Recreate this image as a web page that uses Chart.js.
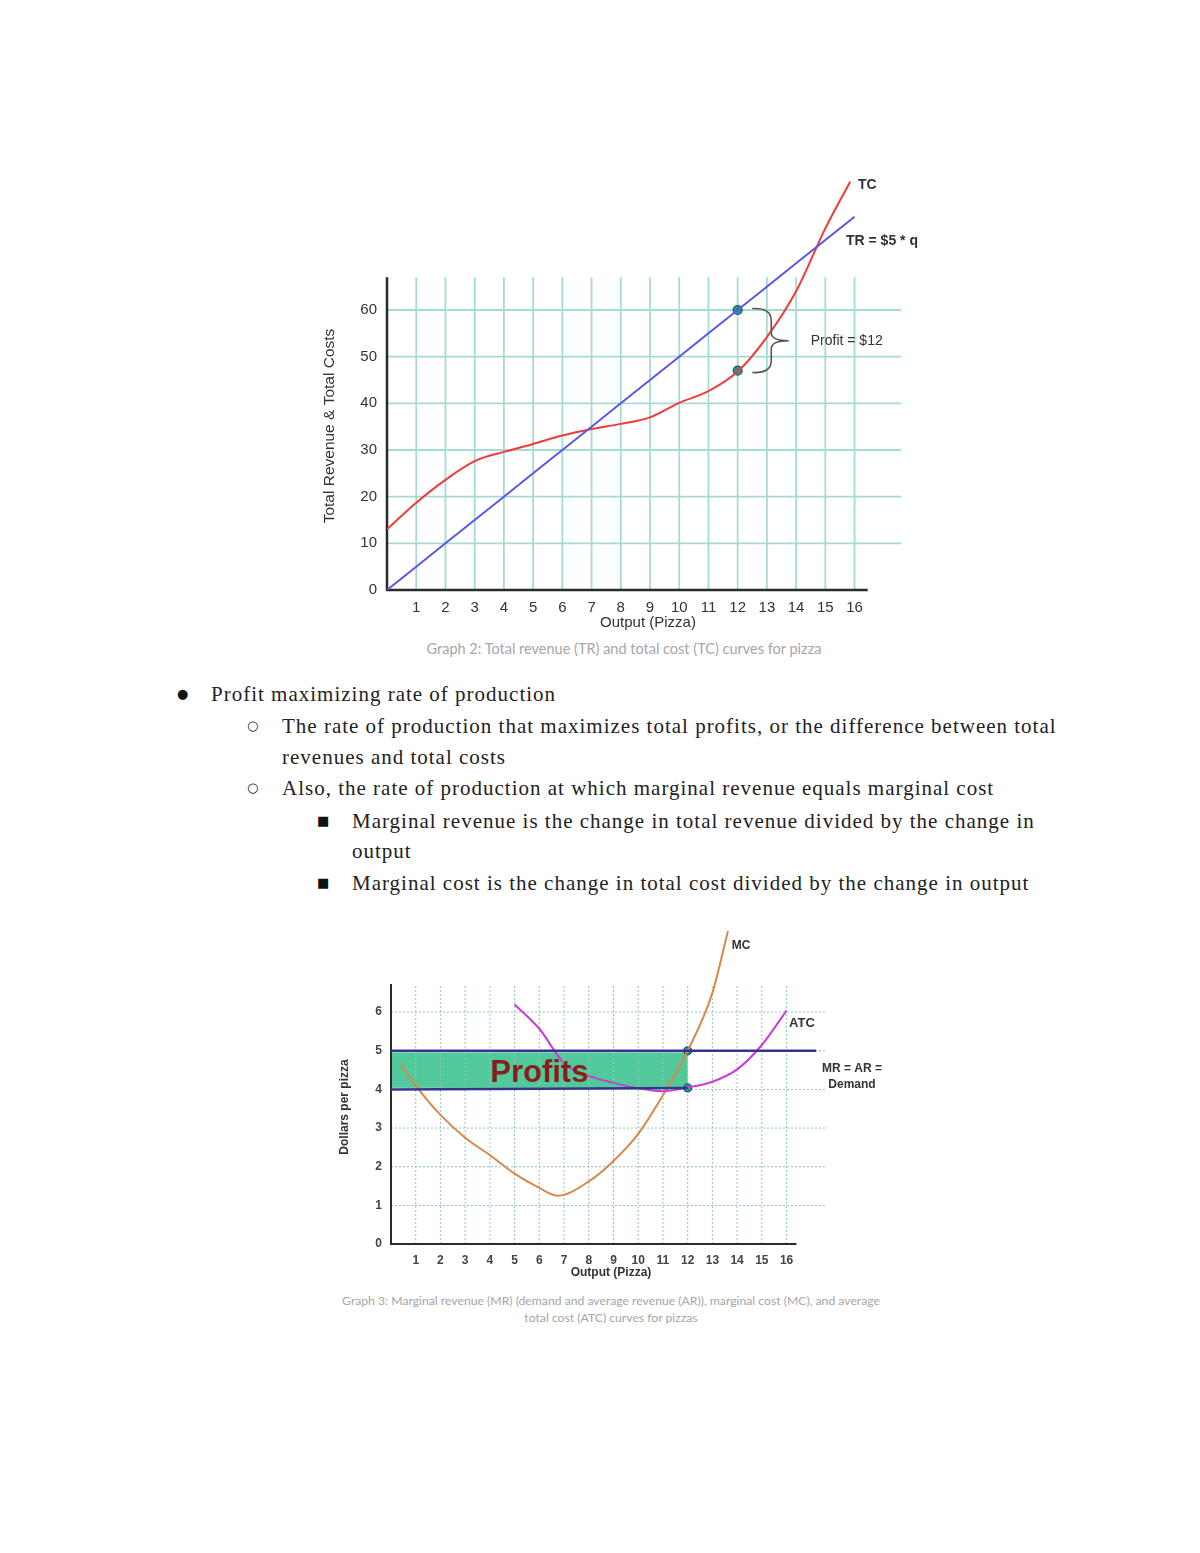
<!DOCTYPE html>
<html lang="en">
<head>
<meta charset="UTF-8">
<title>Profit maximizing rate of production</title>
<script src="https://cdn.jsdelivr.net/npm/chart.js"></script>
<style>
  body { margin: 0; background: #fff; width: 1200px; height: 1553px; position: relative; overflow: hidden; }
  canvas { position: absolute; }
  .cap { position: absolute; font-family: Lato, sans-serif; color: #a6a6a6; text-align: center; white-space: nowrap; }
  .txt { position: absolute; font-family: "Liberation Serif", serif; font-size: 21px; letter-spacing: 1px; color: #222; white-space: nowrap; line-height: 24px; }
  .mark { position: absolute; font-family: "DejaVu Sans", sans-serif; color: #111; line-height: 24px; }
</style>
</head>
<body>

<canvas id="graph2" width="640" height="480" style="left:300px;top:160px"></canvas>
<div class="cap" style="left:324px;top:640px;width:600px;font-size:14.5px">Graph 2: Total revenue (TR) and total cost (TC) curves for pizza</div>

<div class="mark" style="left:177px;top:682px;font-size:13px">●</div>
<div class="txt" style="left:211px;top:682px">Profit maximizing rate of production</div>
<div class="mark" style="left:247px;top:714px;font-size:13px">○</div>
<div class="txt" style="left:282px;top:714px">The rate of production that maximizes total profits, or the difference between total</div>
<div class="txt" style="left:282px;top:745px">revenues and total costs</div>
<div class="mark" style="left:247px;top:776px;font-size:13px">○</div>
<div class="txt" style="left:282px;top:776px">Also, the rate of production at which marginal revenue equals marginal cost</div>
<div class="mark" style="left:317px;top:809px;font-size:13px">■</div>
<div class="txt" style="left:352px;top:809px">Marginal revenue is the change in total revenue divided by the change in</div>
<div class="txt" style="left:352px;top:839px">output</div>
<div class="mark" style="left:317px;top:871px;font-size:13px">■</div>
<div class="txt" style="left:352px;top:871px">Marginal cost is the change in total cost divided by the change in output</div>

<canvas id="graph3" width="580" height="370" style="left:330px;top:920px"></canvas>
<div class="cap" style="left:211px;top:1293px;width:800px;font-size:12.2px">Graph 3: Marginal revenue (MR) (demand and average revenue (AR)), marginal cost (MC), and average</div>
<div class="cap" style="left:211px;top:1310px;width:800px;font-size:12.2px">total cost (ATC) curves for pizzas</div>

<script>
// ---- graph 2: total revenue / total cost ----
const outputTC = [0, 1, 2, 3, 4, 5, 6, 7, 8, 9, 10, 11, 12, 13, 14, 15, 15.85];
const totalCost = [13, 18.7, 23.6, 27.6, 29.6, 31.3, 33.1, 34.5, 35.6, 37, 40.1, 42.6, 46.8, 54.2, 64, 77.5, 87.5];
const outputTR = [0, 1, 2, 3, 4, 5, 6, 7, 8, 9, 10, 11, 12, 13, 14, 15, 16];
const totalRevenue = [0, 5, 10, 15, 20, 25, 30, 35, 40, 45, 50, 55, 60, 65, 70, 75, 80];
const profitPointsQ = [12, 12];
const profitPointsY = [60, 47];
const xTicks2 = [1, 2, 3, 4, 5, 6, 7, 8, 9, 10, 11, 12, 13, 14, 15, 16];
const yTicks2 = [0, 10, 20, 30, 40, 50, 60];

// ---- graph 3: MR / MC / ATC ----
const outputMC = [0.4, 1, 2, 3, 4, 5, 6, 6.75, 8, 9, 10, 11, 12, 13, 13.63];
const marginalCost = [4.64, 4.1, 3.34, 2.75, 2.3, 1.82, 1.45, 1.25, 1.62, 2.15, 2.85, 3.85, 5.0, 6.5, 8.1];
const outputATC = [5, 6, 7, 8, 9, 10, 11, 12, 13, 14, 15, 16];
const averageTotalCost = [6.2, 5.57, 4.68, 4.35, 4.17, 4.03, 3.95, 4.05, 4.2, 4.52, 5.15, 6.04];
const outputMR = [0, 17.2];
const marginalRevenue = [5, 5];
const outputLow = [0, 12];
const lowLine = [4, 4.04];
const optimumQ = [12, 12];
const optimumY = [5, 4.04];
const xTicks3 = [1, 2, 3, 4, 5, 6, 7, 8, 9, 10, 11, 12, 13, 14, 15, 16];
const yTicks3 = [0, 1, 2, 3, 4, 5, 6];

const pts = (xs, ys) => xs.map((x, i) => ({ x: x, y: ys[i] }));

function seg(ctx, x1, y1, x2, y2) {
  ctx.beginPath(); ctx.moveTo(x1, y1); ctx.lineTo(x2, y2); ctx.stroke();
}

// paper-style grid and axis lines that stop short of the chart area
function paperGrid(o) {
  return {
    id: 'paperGrid',
    beforeDatasetsDraw(chart) {
      const { ctx, scales: { x, y } } = chart;
      ctx.save();
      if (o.fill) {
        ctx.fillStyle = o.fill.color;
        const l = x.getPixelForValue(o.fill.x0), r = x.getPixelForValue(o.fill.x1);
        const t = y.getPixelForValue(o.fill.y1), b = y.getPixelForValue(o.fill.y0);
        ctx.fillRect(l, t, r - l, b - t);
      }
      ctx.strokeStyle = o.gridColor;
      ctx.lineWidth = o.gridWidth;
      ctx.setLineDash(o.dash || []);
      o.xTicks.forEach(v => seg(ctx, x.getPixelForValue(v), y.getPixelForValue(0), x.getPixelForValue(v), y.getPixelForValue(o.yTop)));
      o.yTicks.forEach(v => { if (v > 0) seg(ctx, x.getPixelForValue(0), y.getPixelForValue(v), x.getPixelForValue(o.gridRight), y.getPixelForValue(v)); });
      ctx.setLineDash([]);
      ctx.strokeStyle = '#2a2a2a';
      ctx.lineWidth = o.axisWidth;
      seg(ctx, x.getPixelForValue(0), y.getPixelForValue(0), x.getPixelForValue(0), y.getPixelForValue(o.yTop));
      seg(ctx, x.getPixelForValue(0) - 1, y.getPixelForValue(0), x.getPixelForValue(o.xEnd), y.getPixelForValue(0));
      ctx.restore();
    }
  };
}

function axisCfg(min, max, ticks, font, color, pad, fit, horiz) {
  return {
    type: 'linear', min: min, max: max,
    grid: { display: false, drawTicks: false }, border: { display: false },
    afterBuildTicks: s => { s.ticks = ticks.map(v => ({ value: v })); },
    afterFit: s => {
      if (horiz) s.height = fit; else s.width = fit;
      s.paddingTop = 0; s.paddingBottom = 0; s.paddingLeft = 0; s.paddingRight = 0;
    },
    ticks: { font: font, color: color, padding: pad, autoSkip: false, maxRotation: 0, callback: v => String(v) }
  };
}

// ---------- graph 2 ----------
new Chart(document.getElementById('graph2'), {
  type: 'scatter',
  data: {
    datasets: [
      { data: pts(outputTR, totalRevenue), showLine: true, borderColor: '#5858e8', borderWidth: 2, pointRadius: 0 },
      { data: pts(outputTC, totalCost), showLine: true, borderColor: '#ef3b3b', borderWidth: 2, pointRadius: 0, cubicInterpolationMode: 'monotone' },
      { data: pts(profitPointsQ, profitPointsY), showLine: false, pointRadius: 4.5, backgroundColor: '#2f8e93', borderColor: '#1d5a68', borderWidth: 1.2 }
    ]
  },
  options: {
    responsive: false, animation: false,
    layout: { padding: { left: 0, right: 27, top: 10, bottom: 0 } },
    plugins: { legend: { display: false }, tooltip: { enabled: false } },
    scales: {
      x: axisCfg(0, 18, xTicks2, { family: 'Liberation Sans', size: 15 }, '#333', 9, 50, true),
      y: axisCfg(0, 90, yTicks2, { family: 'Liberation Sans', size: 15 }, '#333', 10, 87, false)
    }
  },
  plugins: [
    paperGrid({ xTicks: xTicks2, yTicks: yTicks2, yTop: 67, gridRight: 17.6, xEnd: 16.45, gridColor: '#a6dbd3', gridWidth: 1.8, axisWidth: 2.5 }),
    {
      id: 'notes2',
      afterDatasetsDraw(chart) {
        const { ctx, scales: { x, y } } = chart;
        ctx.save();
        // brace for the profit gap
        ctx.strokeStyle = '#555'; ctx.lineWidth = 1.6;
        const xl = x.getPixelForValue(12.5), xs = x.getPixelForValue(13.15), xt = x.getPixelForValue(13.75);
        const yt = y.getPixelForValue(60.3), yb = y.getPixelForValue(46.6), ym = y.getPixelForValue(53.4);
        ctx.beginPath();
        ctx.moveTo(xl, yt);
        ctx.quadraticCurveTo(xs, yt - 1, xs, yt + 12);
        ctx.lineTo(xs, ym - 8);
        ctx.quadraticCurveTo(xs, ym, xt, ym);
        ctx.quadraticCurveTo(xs, ym, xs, ym + 8);
        ctx.lineTo(xs, yb - 12);
        ctx.quadraticCurveTo(xs, yb + 1, xl, yb);
        ctx.stroke();
        ctx.fillStyle = '#333';
        ctx.textBaseline = 'middle';
        ctx.font = '14px "Liberation Sans"';
        ctx.fillText('Profit = $12', x.getPixelForValue(14.5), ym);
        ctx.font = 'bold 14px "Liberation Sans"';
        ctx.fillText('TC', 558, 25);
        ctx.fillText('TR = $5 * q', 546, 81);
        ctx.textAlign = 'center';
        ctx.font = '15px "Liberation Sans"';
        ctx.fillText('Output (Pizza)', 348, 463);
        ctx.translate(30, 266);
        ctx.rotate(-Math.PI / 2);
        ctx.font = '15.5px "Liberation Sans"';
        ctx.fillText('Total Revenue & Total Costs', 0, 0);
        ctx.restore();
      }
    }
  ]
});

// ---------- graph 3 ----------
new Chart(document.getElementById('graph3'), {
  type: 'scatter',
  data: {
    datasets: [
      { data: pts(outputMR, marginalRevenue), showLine: true, borderColor: '#34348e', borderWidth: 2.5, pointRadius: 0 },
      { data: pts(outputLow, lowLine), showLine: true, borderColor: '#34348e', borderWidth: 2.5, pointRadius: 0 },
      { data: pts(outputATC, averageTotalCost), showLine: true, borderColor: '#c63fd2', borderWidth: 2, pointRadius: 0, cubicInterpolationMode: 'monotone' },
      { data: pts(outputMC, marginalCost), showLine: true, borderColor: '#d48a4c', borderWidth: 2, pointRadius: 0, cubicInterpolationMode: 'monotone' },
      { data: pts(optimumQ, optimumY), showLine: false, pointRadius: 4, backgroundColor: '#2f8e9a', borderColor: '#1d5a68', borderWidth: 1.2 }
    ]
  },
  options: {
    responsive: false, animation: false,
    layout: { padding: { left: 0, right: 74, top: 2, bottom: 0 } },
    plugins: { legend: { display: false }, tooltip: { enabled: false } },
    scales: {
      x: axisCfg(0, 18, xTicks3, { family: 'Liberation Sans', size: 12, weight: 'bold' }, '#444', 9, 46, true),
      y: axisCfg(0, 8.25, yTicks3, { family: 'Liberation Sans', size: 12, weight: 'bold' }, '#444', 9, 61, false)
    }
  },
  plugins: [
    paperGrid({ xTicks: xTicks3, yTicks: yTicks3, yTop: 6.73, gridRight: 17.6, xEnd: 16.4, gridColor: '#93c4bc', gridWidth: 1, dash: [2, 2], axisWidth: 2,
      fill: { color: '#52c99a', x0: 0, x1: 12, y0: 4.04, y1: 4.96 } }),
    {
      id: 'notes3',
      afterDatasetsDraw(chart) {
        const { ctx, scales: { x, y } } = chart;
        ctx.save();
        ctx.textAlign = 'center';
        ctx.textBaseline = 'middle';
        ctx.fillStyle = '#8a1c1a';
        ctx.font = 'bold 31px "Liberation Sans"';
        ctx.fillText('Profits', x.getPixelForValue(6), y.getPixelForValue(4.41));
        ctx.fillStyle = '#333';
        ctx.font = 'bold 12px "Liberation Sans"';
        ctx.fillText('MC', 411, 26);
        ctx.font = 'bold 13px "Liberation Sans"';
        ctx.fillText('ATC', 472, 103);
        ctx.font = 'bold 12px "Liberation Sans"';
        ctx.fillText('MR = AR =', 522, 149);
        ctx.fillText('Demand', 522, 165);
        ctx.fillText('Output (Pizza)', 281, 353);
        ctx.translate(15, 187);
        ctx.rotate(-Math.PI / 2);
        ctx.fillText('Dollars per pizza', 0, 0);
        ctx.restore();
      }
    }
  ]
});
</script>
</body>
</html>
